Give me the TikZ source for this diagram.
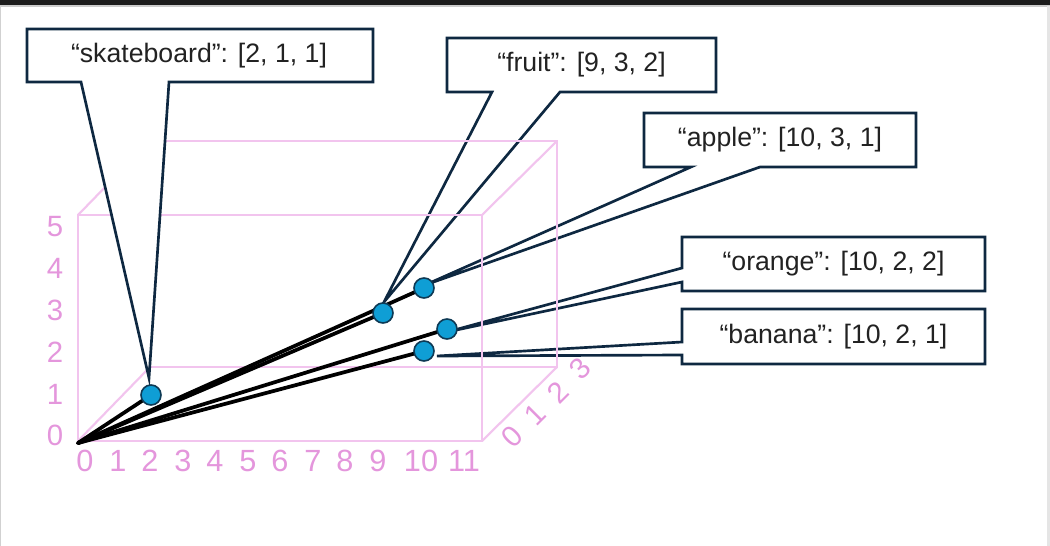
\documentclass[tikz,border=0pt]{standalone}
\usepackage{fontspec}
\setmainfont{Liberation Sans}
\definecolor{cubeline}{HTML}{F2C4EE}
\definecolor{cubelab}{HTML}{E496DC}
\definecolor{calline}{HTML}{0E2841}
\definecolor{dotfill}{HTML}{0F9ED5}
\definecolor{dotline}{HTML}{0E3A55}
\definecolor{txt}{HTML}{222222}
\begin{document}
\begin{tikzpicture}[x=0.75pt,y=-0.75pt,
  cube/.style={draw=cubeline,line width=1.6pt},
  ylab/.style={text=cubelab,font=\fontsize{22}{22}\selectfont,inner sep=0pt},
  xlab/.style={text=cubelab,font=\fontsize{23}{23}\selectfont,inner sep=0pt},
  zlab/.style={text=cubelab,font=\fontsize{22}{22}\selectfont,inner sep=0pt,rotate=45},
  call/.style={draw=calline,fill=white,line width=2pt,line join=miter},
  caltext/.style={text=txt,font=\fontsize{20}{24}\selectfont,inner sep=0pt},
  dataline/.style={draw=black,line width=2.8pt,line cap=round},
  dot/.style={circle,fill=dotfill,draw=dotline,line width=1.2pt,minimum size=15pt,inner sep=0pt}]
\useasboundingbox (0,0) rectangle (1050,546);
\fill[white] (0,0) rectangle (1050,546);
\fill[black!89] (0,0) rectangle (1050,5);
\fill[black!20] (0,5) rectangle (1050,6.5);
\draw[black!18,line width=0.75pt] (0.5,6) -- (0.5,546);
\fill[black!10] (1047,6) rectangle (1050,546);

% callouts behind the cube
\path[call] (447,38) -- (716,38) -- (716,92) -- (560,92) -- (384,302) -- (492,92) -- (447,92) -- cycle;
\path[call] (644,113) -- (916,113) -- (916,167) -- (760,167) -- (425,285) -- (691,167) -- (644,167) -- cycle;
\path[call] (682,237) -- (985,237) -- (985,291) -- (682,291) -- (682,282) -- (447,332) -- (682,268) -- cycle;
\path[call] (682,309) -- (985,309) -- (985,364) -- (682,364) -- (682,355) -- (437,356) -- (682,342) -- cycle;

% cube
\draw[cube] (78,215) rectangle (482,441);
\draw[cube] (150,141) rectangle (557,367);
\draw[cube] (78,215) -- (150,141) (482,215) -- (557,141) (482,441) -- (557,367) (78,441) -- (150,367);

% axis labels
\node[ylab] (y0) at (55,435) {0};
\node[ylab] (y1) at (55,394) {1};
\node[ylab] (y2) at (55,352) {2};
\node[ylab] (y3) at (55,310) {3};
\node[ylab] (y4) at (55,268) {4};
\node[ylab] (y5) at (55,227) {5};
\node[xlab] (x0) at (85,461) {0};
\node[xlab] (x1) at (118,461) {1};
\node[xlab] (x2) at (150,461) {2};
\node[xlab] (x3) at (183,461) {3};
\node[xlab] (x4) at (215,461) {4};
\node[xlab] (x5) at (248,461) {5};
\node[xlab] (x6) at (280,461) {6};
\node[xlab] (x7) at (313,461) {7};
\node[xlab] (x8) at (345,461) {8};
\node[xlab] (x9) at (378,461) {9};
\node[xlab] (x10) at (421,461) {10};
\node[xlab] (x11) at (464,461) {11};
\node[zlab] (z0) at (512,437) {0};
\node[zlab] (z1) at (535,415) {1};
\node[zlab] (z2) at (558,392) {2};
\node[zlab] (z3) at (580,369) {3};

% skateboard callout (in front of the cube)
\path[call] (27,29) -- (373,29) -- (373,82) -- (169,82) -- (149,378) -- (81,82) -- (27,82) -- cycle;

% callout texts
\node[caltext] (tskate) at (199,55.5) {“skateboard”: [2, 1, 1]};
\node[caltext] (tfruit) at (581.5,65) {“fruit”: [9, 3, 2]};
\node[caltext] (tapple) at (780,140) {“apple”: [10, 3, 1]};
\node[caltext] (torange) at (833.5,264) {“orange”: [10, 2, 2]};
\node[caltext] (tbanana) at (833.5,336.5) {“banana”: [10, 2, 1]};

% data vectors
\coordinate (O) at (78,443);
\coordinate (cskate) at (151,395);
\coordinate (cfruit) at (383,313);
\coordinate (capple) at (424,288);
\coordinate (corange) at (447,329);
\coordinate (cbanana) at (424,351);
\draw[dataline] (O) -- (cskate);
\draw[dataline] (O) -- (cfruit);
\draw[dataline] (O) -- (capple);
\draw[dataline] (O) -- (corange);
\draw[dataline] (O) -- (cbanana);
\node[dot] (pskate) at (cskate) {};
\node[dot] (pfruit) at (cfruit) {};
\node[dot] (papple) at (capple) {};
\node[dot] (porange) at (corange) {};
\node[dot] (pbanana) at (cbanana) {};
\end{tikzpicture}
\end{document}
